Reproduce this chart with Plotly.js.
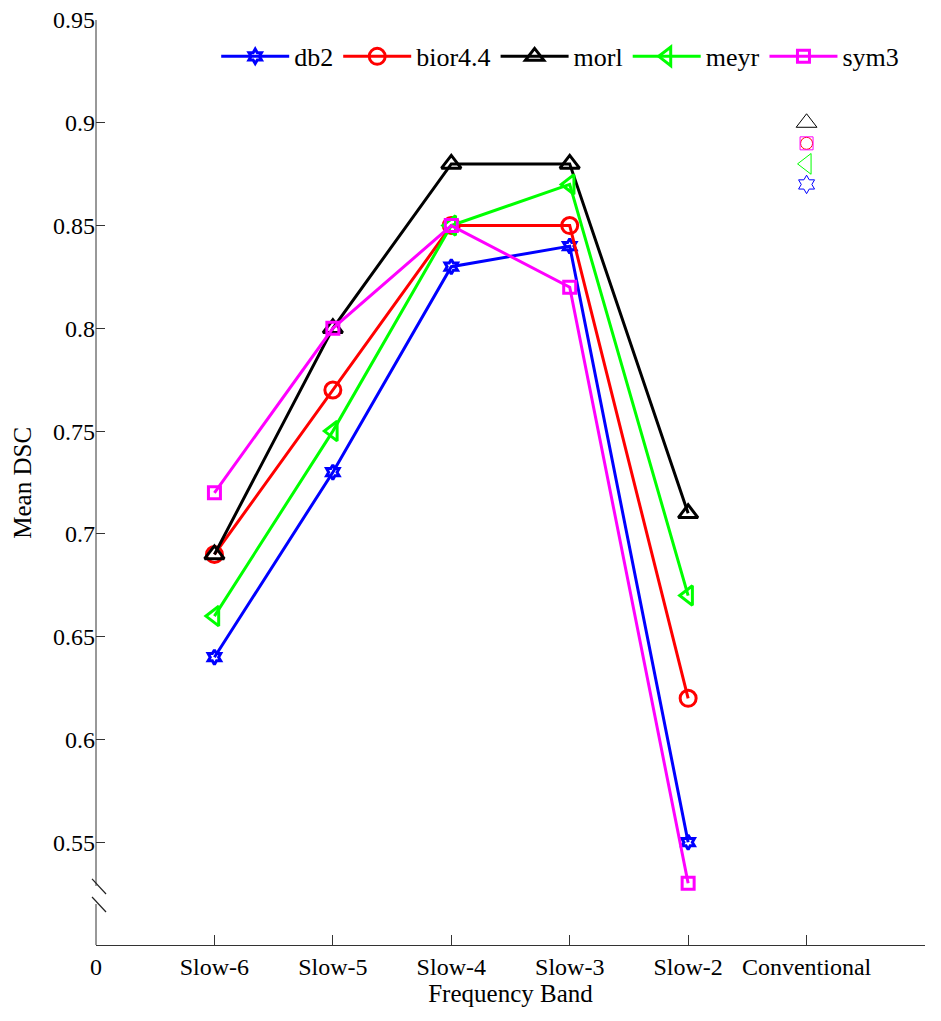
<!DOCTYPE html>
<html>
<head>
<meta charset="utf-8">
<script src="https://cdn.plot.ly/plotly-3.0.1.min.js"></script>
<style>
  body { margin: 0; background: #fff; }
  #chart { width: 941px; height: 1021px; }
</style>
</head>
<body>
<div id="chart"></div>
<script>
// category positions on the x axis (0 is only an axis label)
var tickPos = [0, 1, 2, 3, 4, 5, 6];
var tickText = ['0', 'Slow-6', 'Slow-5', 'Slow-4', 'Slow-3', 'Slow-2', 'Conventional'];

var bandX = [1, 2, 3, 4, 5];
var convX = [6];

// mean DSC per wavelet, Slow-6 .. Slow-2
var db2 = [0.64, 0.73, 0.83, 0.84, 0.55];
var bior44 = [0.69, 0.77, 0.85, 0.85, 0.62];
var morl = [0.69, 0.80, 0.88, 0.88, 0.71];
var meyr = [0.66, 0.75, 0.85, 0.87, 0.67];
var sym3 = [0.72, 0.80, 0.85, 0.82, 0.53];

// conventional band values
var db2Conv = [0.87];
var bior44Conv = [0.89];
var morlConv = [0.90];
var meyrConv = [0.88];
var sym3Conv = [0.89];

var series = [
  {name: 'db2', y: db2, conv: db2Conv, color: '#0000ff', symbol: 'hexagram-open', size: 11, csize: 14},
  {name: 'bior4.4', y: bior44, conv: bior44Conv, color: '#ff0000', symbol: 'circle-open', size: 16, csize: 12},
  {name: 'morl', y: morl, conv: morlConv, color: '#000000', symbol: 'triangle-up-open', size: 17, csize: 18},
  {name: 'meyr', y: meyr, conv: meyrConv, color: '#00ff00', symbol: 'triangle-left-open', size: 17, csize: 18},
  {name: 'sym3', y: sym3, conv: sym3Conv, color: '#ff00ff', symbol: 'square-open', size: 12, csize: 13}
];

var data = [];
series.forEach(function (s) {
  data.push({
    x: bandX,
    y: s.y,
    name: s.name,
    type: 'scatter',
    mode: 'lines+markers',
    line: {color: s.color, width: 3},
    marker: {symbol: s.symbol, size: s.size, color: s.color, line: {width: 3, color: s.color}}
  });
});
series.forEach(function (s) {
  data.push({
    x: convX,
    y: s.conv,
    name: s.name,
    type: 'scatter',
    mode: 'markers',
    showlegend: false,
    marker: {symbol: s.symbol, size: s.csize, color: s.color, line: {width: 1, color: s.color}}
  });
});

var serif = 'Liberation Serif, Times New Roman, serif';
var tickFont = {family: serif, size: 24, color: '#000'};
var titleFont = {family: serif, size: 25, color: '#000'};
var legendFont = {family: serif, size: 26, color: '#000'};
var axisColor = '#333';

var layout = {
  width: 941,
  height: 1021,
  margin: {l: 96, r: 16, t: 20, b: 76},
  paper_bgcolor: '#fff',
  plot_bgcolor: '#fff',
  font: tickFont,
  showlegend: true,
  legend: {
    orientation: 'h',
    x: 0.145, y: 0.986,
    xanchor: 'left', yanchor: 'top',
    bgcolor: 'rgba(0,0,0,0)',
    font: legendFont,
    itemwidth: 68,
    tracegroupgap: 0
  },
  xaxis: {
    range: [0, 7],
    tickmode: 'array',
    tickvals: tickPos,
    ticktext: tickText,
    ticks: 'inside',
    ticklen: 10,
    tickcolor: axisColor,
    showline: true,
    linecolor: axisColor,
    linewidth: 1,
    showgrid: false,
    zeroline: false,
    tickfont: tickFont,
    title: {text: 'Frequency Band', font: titleFont, standoff: 5}
  },
  yaxis: {
    range: [0.5, 0.95],
    tickmode: 'array',
    tickvals: [0.55, 0.6, 0.65, 0.7, 0.75, 0.8, 0.85, 0.9, 0.95],
    ticktext: ['0.55', '0.6', '0.65', '0.7', '0.75', '0.8', '0.85', '0.9', '0.95'],
    ticks: 'inside',
    ticklen: 9,
    tickcolor: axisColor,
    showline: false,
    showgrid: false,
    zeroline: false,
    tickfont: tickFont
  },
  annotations: [
    // y axis title, placed by hand so it sits further left than Plotly's standoff allows
    {text: 'Mean DSC', xref: 'paper', yref: 'paper', x: -0.089, y: 0.5,
     xanchor: 'center', yanchor: 'middle', textangle: -90, showarrow: false, font: titleFont}
  ],
  shapes: [
    // y axis line, interrupted by the break
    {type: 'line', xref: 'paper', yref: 'paper', x0: 0, x1: 0, y0: 0.0638, y1: 1,
     line: {color: axisColor, width: 1}},
    {type: 'line', xref: 'paper', yref: 'paper', x0: 0, x1: 0, y0: 0, y1: 0.0443,
     line: {color: axisColor, width: 1}},
    // axis break marks
    {type: 'line', xref: 'paper', yref: 'paper', x0: -0.0048, x1: 0.0121, y0: 0.0714, y1: 0.0551,
     line: {color: '#222', width: 1.2}},
    {type: 'line', xref: 'paper', yref: 'paper', x0: -0.0048, x1: 0.0121, y0: 0.0519, y1: 0.0357,
     line: {color: '#222', width: 1.2}}
  ]
};

Plotly.newPlot('chart', data, layout, {displayModeBar: false, staticPlot: true});
</script>
</body>
</html>
